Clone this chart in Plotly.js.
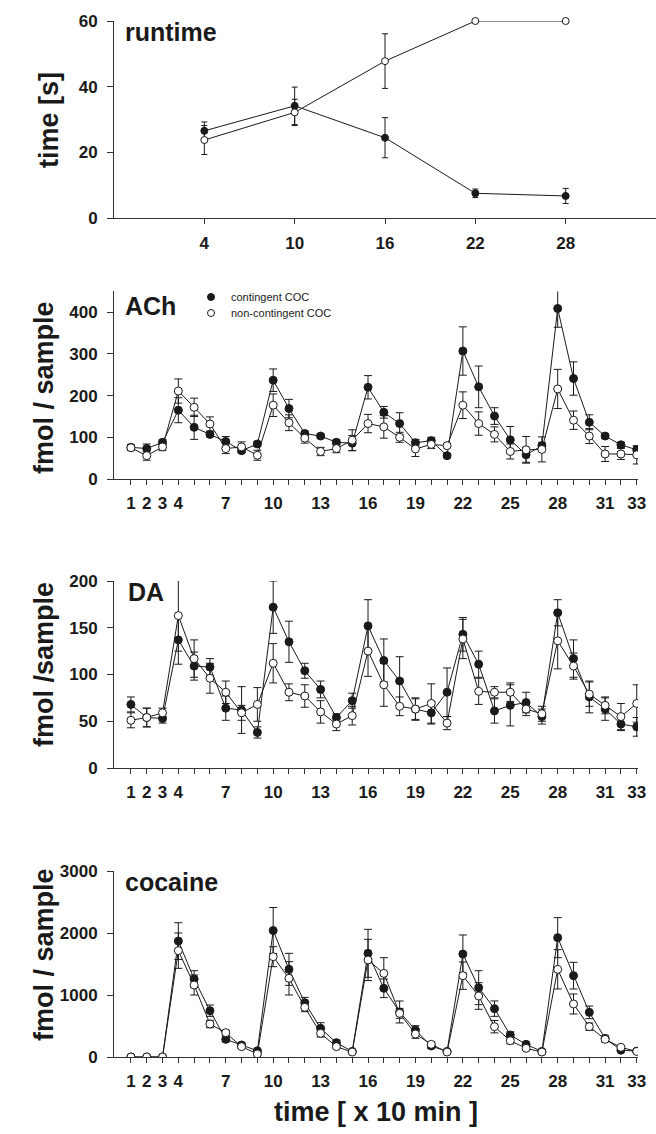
<!DOCTYPE html>
<html>
<head>
<meta charset="utf-8">
<script src="https://cdn.plot.ly/plotly-3.0.1.min.js"></script>
<style>html,body{margin:0;padding:0;background:#fff;}#chart{width:656px;height:1134px;}</style>
</head>
<body>
<div id="chart"></div>
<script>
// ---------- data ----------
const runtimeSessions = [4, 10, 16, 22, 28];
const runtimeContingent = [26.6, 34.2, 24.5, 7.6, 6.8];
const runtimeContingentErr = [2.7, 5.7, 6.1, 1.3, 2.3];
const runtimeNonContingent = [23.8, 32.2, 47.8, 60, 60];
const runtimeNonContingentErr = [4.4, 4.0, 8.3, 0, 0];

const samples = [1,2,3,4,5,6,7,8,9,10,11,12,13,14,15,16,17,18,19,20,21,22,23,24,25,26,27,28,29,30,31,32,33];
const sampleTickLabels = ['1','2','3','4','','','7','','','10','','','13','','','16','','','19','','','22','','','25','','','28','','','31','','33'];

const achContingent = [76,73,88,165,124,107,90,68,84,237,169,109,103,88,86,220,160,133,87,92,56,307,221,151,94,58,80,409,241,136,103,82,70];
const achContingentErr = [6,11,6,30,29,6,12,5,6,27,22,6,5,6,18,28,14,26,8,8,5,58,50,20,32,18,8,45,40,18,6,6,7];
const achNonContingent = [75,56,77,211,172,132,73,77,57,177,135,98,66,73,93,133,125,100,72,83,80,177,133,107,66,70,71,216,141,103,60,60,58];
const achNonContingentErr = [6,11,9,29,22,17,12,12,12,27,19,12,10,10,25,22,27,12,18,10,5,32,28,18,18,32,30,47,22,18,18,13,22];

const daContingent = [68,54,53,137,109,108,64,62,38,172,135,104,84,54,72,152,115,93,63,59,81,143,111,61,67,70,55,166,117,76,63,47,44];
const daContingentErr = [8,10,5,26,15,9,13,25,6,28,22,8,9,4,8,28,23,26,12,12,26,18,14,13,22,11,8,14,20,17,12,7,10];
const daNonContingent = [51,54,59,163,117,96,81,59,68,112,81,77,60,47,56,125,89,66,63,69,48,138,82,81,81,63,58,136,109,79,67,55,69];
const daNonContingentErr = [8,10,5,38,20,16,12,8,18,21,9,12,12,7,10,27,23,10,11,21,7,21,14,6,10,7,8,30,14,13,9,14,20];

const cocContingent = [0,0,0,1870,1258,747,285,194,100,2040,1414,876,462,231,90,1672,1108,726,435,177,90,1661,1118,780,355,204,90,1925,1312,720,301,110,95];
const cocContingentErr = [0,0,0,296,134,91,40,30,20,371,258,86,91,40,20,387,150,177,70,40,20,307,274,124,50,30,20,323,215,102,40,20,20];
const cocNonContingent = [0,0,0,1715,1161,532,392,167,50,1618,1269,801,382,167,80,1565,1349,704,371,204,80,1312,984,489,263,140,80,1414,855,489,285,156,90];
const cocNonContingentErr = [0,0,0,285,161,60,40,30,20,161,269,70,60,30,20,333,253,80,70,40,20,220,215,100,50,30,20,317,161,60,40,20,20];

const seriesNames = ['contingent COC', 'non-contingent COC'];
const panelLabels = ['runtime', 'ACh', 'DA', 'cocaine'];
const yTitles = ['time [s]', 'fmol / sample', 'fmol /sample', 'fmol / sample'];
const xTitle = 'time [ x 10 min ]';

// ---------- styling helpers ----------
const FONT = 'Liberation Sans, Arial, Helvetica, sans-serif';
const INK = '#1a1a1a';
const W = 656, H = 1134;
function px(x){ return x / W; }
function py(y){ return 1 - y / H; }

function trace(x, y, err, filled, xa, ya, size, cap, clip){
  return {
    x: x, y: y, xaxis: xa, yaxis: ya, type: 'scatter', mode: 'lines+markers',
    showlegend: false, cliponaxis: clip,
    line: {color: INK, width: 1},
    marker: {symbol: 'circle', size: size, color: filled ? INK : '#ffffff', line: {color: INK, width: 1}},
    error_y: {type: 'data', array: err, visible: true, color: INK, thickness: 1, width: cap}
  };
}

const data = [
  trace(runtimeSessions, runtimeContingent, runtimeContingentErr, true, 'x', 'y', 7, 3, false),
  trace(runtimeSessions, runtimeNonContingent, runtimeNonContingentErr, false, 'x', 'y', 7, 3, false),
  trace(samples, achContingent, achContingentErr, true, 'x2', 'y2', 8, 4, true),
  trace(samples, achNonContingent, achNonContingentErr, false, 'x2', 'y2', 8, 4, true),
  trace(samples, daContingent, daContingentErr, true, 'x3', 'y3', 8, 4, true),
  trace(samples, daNonContingent, daNonContingentErr, false, 'x3', 'y3', 8, 4, true),
  trace(samples, cocContingent, cocContingentErr, true, 'x4', 'y4', 8, 4, true),
  trace(samples, cocNonContingent, cocNonContingentErr, false, 'x4', 'y4', 8, 4, true),
  // legend entries (markers only)
  {x: [null], y: [null], xaxis: 'x2', yaxis: 'y2', type: 'scatter', mode: 'markers', name: seriesNames[0], showlegend: true, legend: 'legend',
   marker: {symbol: 'circle', size: 7, color: INK, line: {color: INK, width: 1}}},
  {x: [null], y: [null], xaxis: 'x2', yaxis: 'y2', type: 'scatter', mode: 'markers', name: seriesNames[1], showlegend: true, legend: 'legend2',
   marker: {symbol: 'circle', size: 7, color: '#ffffff', line: {color: INK, width: 1}}}
];

const tickFont = {family: FONT, size: 17, color: INK, weight: 'bold'};
function xAxis(domain, range, anchor, tickvals, ticktext){
  return {domain: domain, range: range, anchor: anchor, showline: true, linecolor: '#333', linewidth: 1,
    showgrid: false, zeroline: false, ticks: 'outside', ticklen: 5, tickwidth: 1, tickcolor: '#333',
    tickmode: 'array', tickvals: tickvals, ticktext: ticktext, tickfont: tickFont, ticklabelstandoff: 4, fixedrange: true};
}
function yAxis(domain, range, anchor, dtick){
  return {domain: domain, range: range, anchor: anchor, showline: true, linecolor: '#333', linewidth: 1,
    showgrid: false, zeroline: false, ticks: 'outside', ticklen: 6, tickwidth: 1, tickcolor: '#333',
    tickmode: 'linear', tick0: 0, dtick: dtick, tickfont: tickFont, ticklabelstandoff: 6, fixedrange: true};
}

const xTop = [px(114), px(656)];
const xBot = [px(114), px(638)];
const legendFont = {family: FONT, size: 11, color: INK};

const layout = {
  width: W, height: H, margin: {l: 0, r: 0, t: 0, b: 0}, paper_bgcolor: '#fff', plot_bgcolor: '#fff',
  showlegend: true,
  font: {family: FONT, color: INK},
  xaxis:  xAxis(xTop, [-2, 34], 'y', runtimeSessions, runtimeSessions.map(String)),
  yaxis:  yAxis([py(218.3), py(21)], [0, 60], 'x', 20),
  xaxis2: xAxis(xBot, [-0.07, 33.08], 'y2', samples, sampleTickLabels),
  yaxis2: yAxis([py(479), py(291.4)], [0, 450], 'x2', 100),
  xaxis3: xAxis(xBot, [-0.07, 33.08], 'y3', samples, sampleTickLabels),
  yaxis3: yAxis([py(768), py(581)], [0, 200], 'x3', 50),
  xaxis4: xAxis(xBot, [-0.07, 33.08], 'y4', samples, sampleTickLabels),
  yaxis4: yAxis([py(1057), py(871)], [0, 3000], 'x4', 1000),
  legend: {x: px(191), xanchor: 'left', y: py(297), yanchor: 'middle', bgcolor: 'rgba(0,0,0,0)',
    font: legendFont, itemwidth: 30},
  legend2: {x: px(191), xanchor: 'left', y: py(313), yanchor: 'middle', bgcolor: 'rgba(0,0,0,0)',
    font: legendFont, itemwidth: 30},
  annotations: [
    {text: panelLabels[0], xref: 'paper', yref: 'paper', x: px(123), y: py(16), xanchor: 'left', yanchor: 'top', showarrow: false, font: {family: FONT, size: 25, color: INK, weight: 'bold'}},
    {text: panelLabels[1], xref: 'paper', yref: 'paper', x: px(123), y: py(290), xanchor: 'left', yanchor: 'top', showarrow: false, font: {family: FONT, size: 25, color: INK, weight: 'bold'}},
    {text: panelLabels[2], xref: 'paper', yref: 'paper', x: px(126), y: py(576), xanchor: 'left', yanchor: 'top', showarrow: false, font: {family: FONT, size: 25, color: INK, weight: 'bold'}},
    {text: panelLabels[3], xref: 'paper', yref: 'paper', x: px(123), y: py(866), xanchor: 'left', yanchor: 'top', showarrow: false, font: {family: FONT, size: 25, color: INK, weight: 'bold'}},
    {text: yTitles[0], xref: 'paper', yref: 'paper', x: px(49), y: py(120), xanchor: 'center', yanchor: 'middle', textangle: -90, showarrow: false, font: {family: FONT, size: 27, color: INK, weight: 'bold'}},
    {text: yTitles[1], xref: 'paper', yref: 'paper', x: px(44), y: py(388), xanchor: 'center', yanchor: 'middle', textangle: -90, showarrow: false, font: {family: FONT, size: 27, color: INK, weight: 'bold'}},
    {text: yTitles[2], xref: 'paper', yref: 'paper', x: px(44), y: py(665), xanchor: 'center', yanchor: 'middle', textangle: -90, showarrow: false, font: {family: FONT, size: 27, color: INK, weight: 'bold'}},
    {text: yTitles[3], xref: 'paper', yref: 'paper', x: px(44), y: py(955), xanchor: 'center', yanchor: 'middle', textangle: -90, showarrow: false, font: {family: FONT, size: 27, color: INK, weight: 'bold'}},
    {text: xTitle, xref: 'paper', yref: 'paper', x: px(376), y: py(1112), xanchor: 'center', yanchor: 'middle', showarrow: false, font: {family: FONT, size: 27, color: INK, weight: 'bold'}}
  ]
};

Plotly.newPlot('chart', data, layout, {displayModeBar: false, staticPlot: true});
</script>
</body>
</html>
